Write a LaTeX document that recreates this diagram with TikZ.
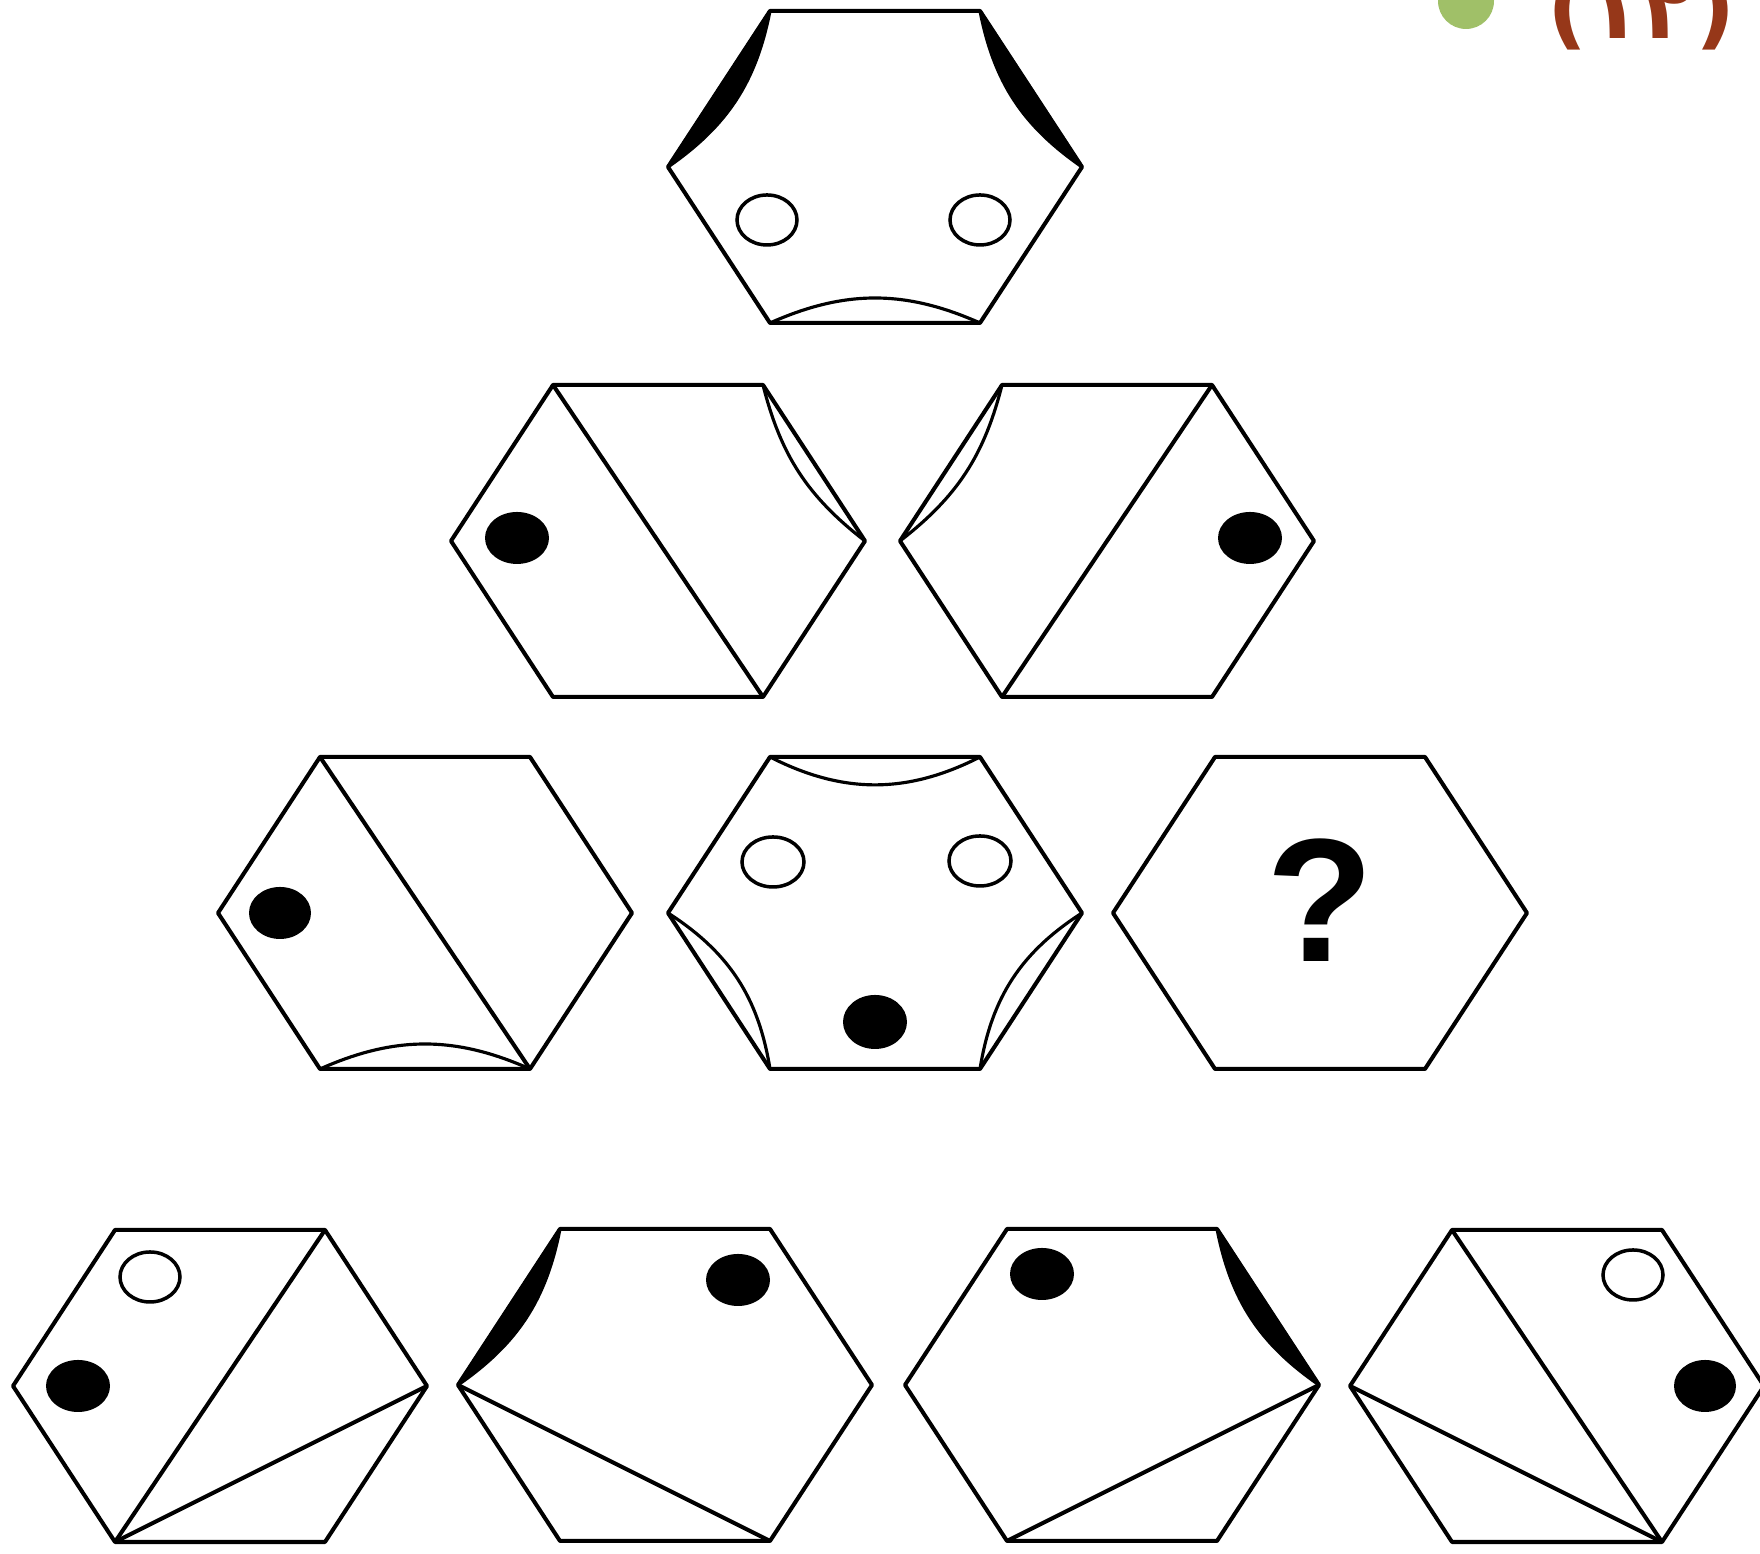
\documentclass[tikz,border=0pt]{standalone}
\usepackage{fontspec}
\setsansfont{Liberation Sans}
\newfontfamily\persianfont{DejaVu Sans}
\begin{document}
\begin{tikzpicture}[
  hexline/.style={line width=1.15pt,line join=round},
  spot/.style={fill=black},
  ring/.style={line width=1pt},
  lens/.style={line width=0.9pt,line join=round,bend left=#1},
]
\definecolor{tag}{RGB}{150,55,25}
\definecolor{ballgreen}{RGB}{160,192,104}
\useasboundingbox (0,0) rectangle (17.6,15.54);
\fill[white] (0,0) rectangle (17.6,15.54);
% ten hexagons, corners named <n>-l, -tl, -tr, -r, -br, -bl
\foreach \n/\cx/\cy in {a/8.75/13.87, b1/6.58/10.13, b2/11.07/10.13,
    c1/4.25/6.41, c2/8.75/6.41, c3/13.20/6.41,
    d1/2.20/1.68, d2/6.65/1.69, d3/11.12/1.69, d4/15.57/1.68}{
  \path (\cx,\cy) coordinate (\n)
    +(-2.07,0) coordinate (\n-l) +(-1.05,1.56) coordinate (\n-tl)
    +(1.05,1.56) coordinate (\n-tr) +(2.07,0) coordinate (\n-r)
    +(1.05,-1.56) coordinate (\n-br) +(-1.05,-1.56) coordinate (\n-bl);
  \draw[hexline] (\n-l) -- (\n-tl) -- (\n-tr) -- (\n-r) -- (\n-br) -- (\n-bl) -- cycle;
}
% top
\filldraw[lens=22] (a-tl) to (a-l) -- cycle;
\filldraw[lens=22] (a-r) to (a-tr) -- cycle;
\draw[lens=24] (a-bl) to (a-br);
\draw[ring] ([shift={(-1.08,-0.53)}]a) ellipse [x radius=0.30,y radius=0.25];
\draw[ring] ([shift={(1.05,-0.53)}]a) ellipse [x radius=0.30,y radius=0.25];
% second row
\draw[hexline] (b1-tl) -- (b1-br);
\draw[lens=19] (b1-r) to (b1-tr);
\fill[spot] ([shift={(-1.41,0.03)}]b1) ellipse [x radius=0.32,y radius=0.26];
\draw[hexline] (b2-tr) -- (b2-bl);
\draw[lens=19] (b2-tl) to (b2-l);
\fill[spot] ([shift={(1.43,0.03)}]b2) ellipse [x radius=0.32,y radius=0.26];
% third row
\draw[hexline] (c1-tl) -- (c1-br);
\draw[lens=24] (c1-bl) to (c1-br);
\fill[spot] ([shift={(-1.45,0)}]c1) ellipse [x radius=0.31,y radius=0.26];
\draw[lens=27] (c2-tr) to (c2-tl);
\draw[lens=24] (c2-l) to (c2-bl);
\draw[lens=24] (c2-br) to (c2-r);
\draw[ring] ([shift={(-1.02,0.51)}]c2) ellipse [x radius=0.31,y radius=0.25];
\draw[ring] ([shift={(1.05,0.52)}]c2) ellipse [x radius=0.31,y radius=0.25];
\fill[spot] ([shift={(0,-1.09)}]c2) ellipse [x radius=0.32,y radius=0.27];
\node[font=\sffamily\bfseries\fontsize{50}{50}\selectfont,inner sep=0] (qmark)
  at ([yshift=0.13cm]c3) {?};
% answers
\draw[hexline] (d1-bl) -- (d1-tr);
\draw[hexline] (d1-bl) -- (d1-r);
\draw[ring] ([shift={(-0.70,1.09)}]d1) ellipse [x radius=0.30,y radius=0.25];
\fill[spot] ([shift={(-1.42,0)}]d1) ellipse [x radius=0.32,y radius=0.26];
\filldraw[lens=22] (d2-tl) to (d2-l) -- cycle;
\draw[hexline] (d2-l) -- (d2-br);
\fill[spot] ([shift={(0.73,1.05)}]d2) ellipse [x radius=0.32,y radius=0.26];
\filldraw[lens=22] (d3-r) to (d3-tr) -- cycle;
\draw[hexline] (d3-r) -- (d3-bl);
\fill[spot] ([shift={(-0.70,1.11)}]d3) ellipse [x radius=0.32,y radius=0.26];
\draw[hexline] (d4-br) -- (d4-tl);
\draw[hexline] (d4-br) -- (d4-l);
\draw[ring] ([shift={(0.76,1.11)}]d4) ellipse [x radius=0.30,y radius=0.25];
\fill[spot] ([shift={(1.48,0)}]d4) ellipse [x radius=0.31,y radius=0.26];
% corner mark
\fill[ballgreen] (14.66,15.53) circle (0.28);
\node[anchor=base west,inner sep=0,text=tag,font=\persianfont\bfseries\fontsize{25}{25}\selectfont]
  (num) at (15.47,15.15) {(۱۲)};
\end{tikzpicture}
\end{document}
